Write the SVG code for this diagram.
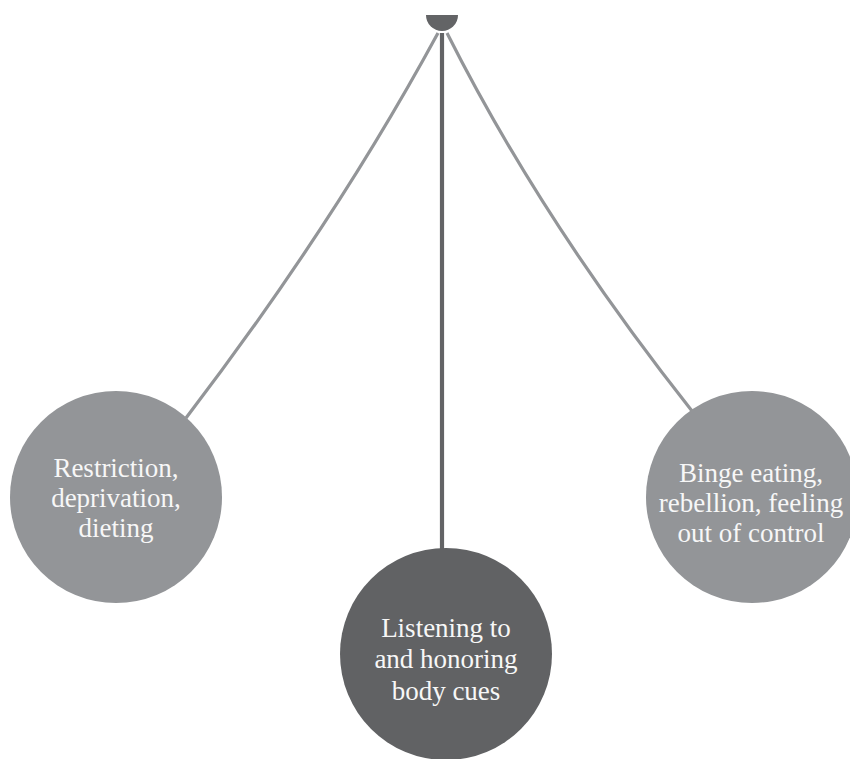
<svg xmlns="http://www.w3.org/2000/svg" width="850" height="759" viewBox="0 0 850 759">
<style>
.side{fill:none;stroke:#939598;stroke-width:3.2}
.mid{fill:none;stroke:#636466;stroke-width:4.2}
.light{fill:#939598}
.dark{fill:#616264}
text{font-family:"Liberation Serif","DejaVu Serif",serif;font-size:27px;fill:#f7f7f7;text-anchor:middle}
</style>
<rect width="850" height="759" fill="#ffffff"/>
<g id="connectors">
<path class="side" d="M438 33 Q335 223 186 418"/>
<path class="mid" d="M442 33 L442 550"/>
<path class="side" d="M447 33 Q541 220 692 411"/>
</g>
<g id="pivot">
<path d="M426 15 A16 16 0 0 0 458 15 Z" fill="#636466"/>
</g>
<g id="restriction">
<circle class="light" cx="116" cy="497" r="106"/>
<text x="116" y="477">Restriction,</text>
<text x="116" y="507">deprivation,</text>
<text x="116" y="537">dieting</text>
</g>
<g id="binge">
<circle class="light" cx="752" cy="497" r="106"/>
<text x="751" y="482">Binge eating,</text>
<text x="751" y="512">rebellion, feeling</text>
<text x="751" y="542">out of control</text>
</g>
<g id="listening">
<circle class="dark" cx="446" cy="654" r="106"/>
<text x="446" y="637">Listening to</text>
<text x="446" y="668">and honoring</text>
<text x="446" y="700">body cues</text>
</g>
</svg>
